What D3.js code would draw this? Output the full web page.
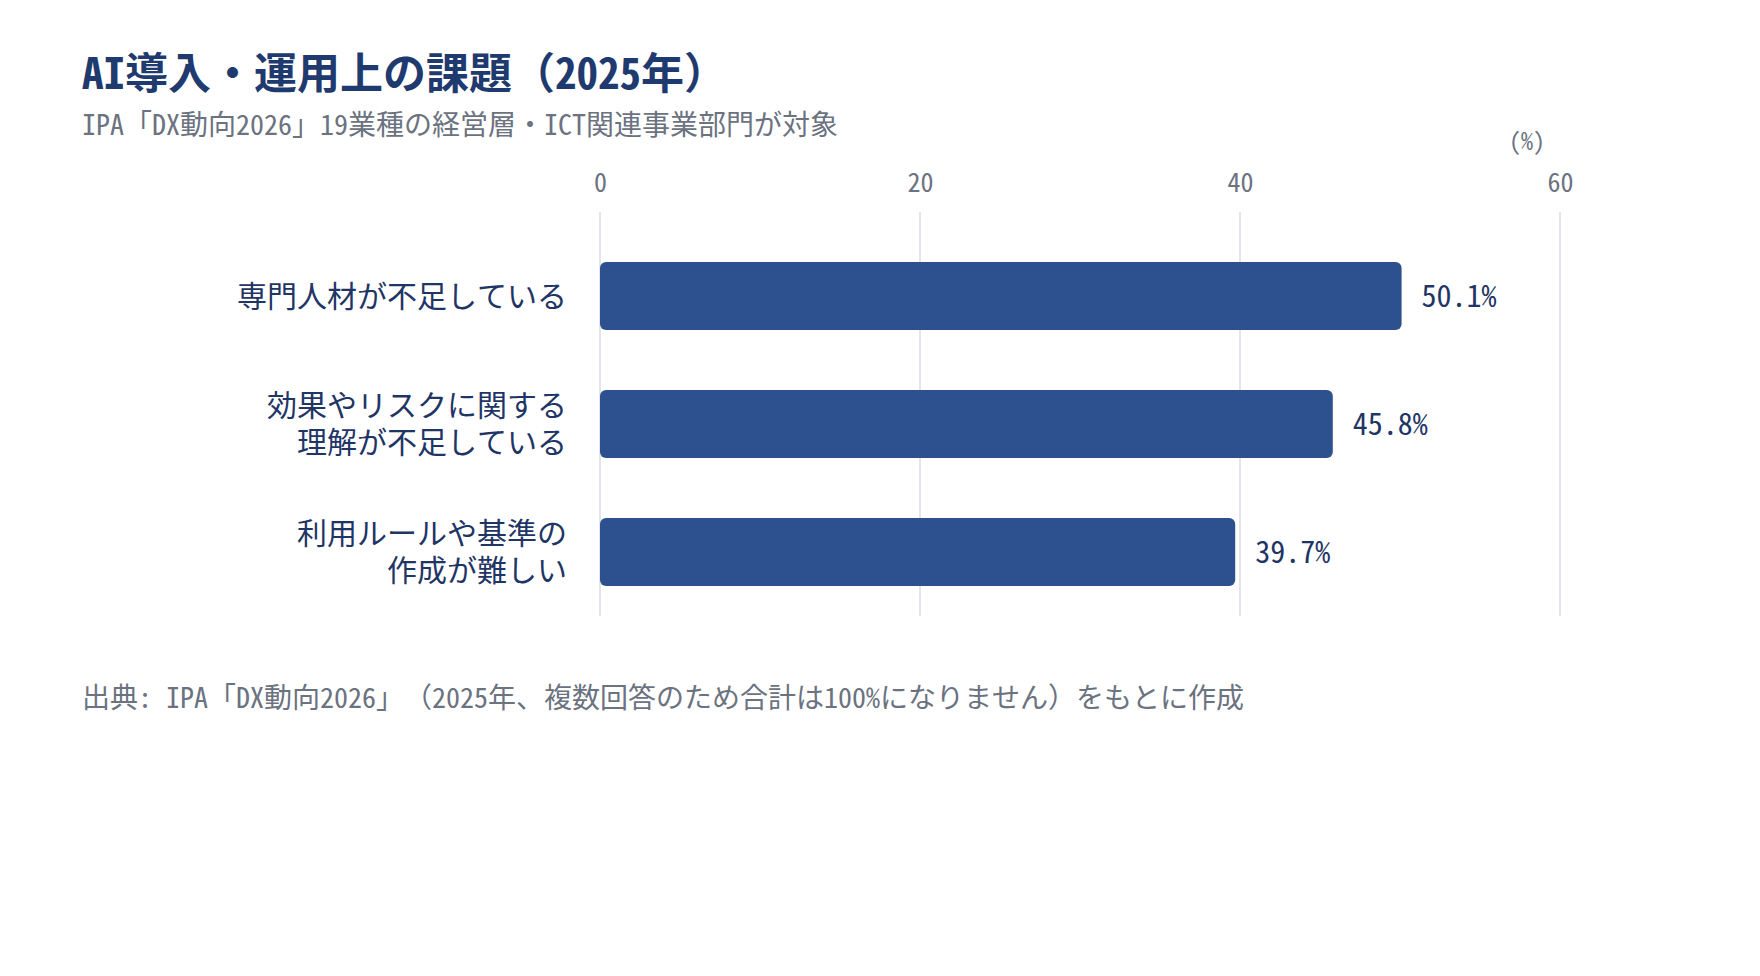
<!DOCTYPE html>
<head>
  <meta charset="utf-8">
  <script src="https://d3js.org/d3.v7.min.js"></script>
  <style>
  body{
    margin: 0;
    background: #fff;
  }
  svg text{
    font-family: "Noto Sans Mono CJK JP", monospace;
    text-spacing-trim: space-all;
  }
  .grid line{
    stroke: #e2e5ee;
    stroke-width: 2px;
  }
  .x.axis text{
    font-size: 26px;
    fill: #6b7280;
  }
  .x.axis .domain{
    display: none;
  }
  </style>
</head>

<body>
  <script>
    // data
    var categories = ["専門人材が不足している",
                      "効果やリスクに関する\n理解が不足している",
                      "利用ルールや基準の\n作成が難しい"];
    var values = [50.1, 45.8, 39.7];
    var xTicks = [0, 20, 40, 60];

    var title = "AI導入・運用上の課題（2025年）",
        subtitle = "IPA「DX動向2026」19業種の経営層・ICT関連事業部門が対象",
        source = "出典: IPA「DX動向2026」（2025年、複数回答のため合計は100%になりません）をもとに作成",
        unit = "(%)";

    var width = 1760, height = 976;

    var svg = d3.select("body")
        .append("svg")
        .attr("width", width)
        .attr("height", height);

    // scales
    var xScale = d3.scaleLinear()
        .domain([0, 60])
        .range([600, 1560]);

    var yScale = d3.scaleBand()
        .domain(categories)
        .range([232, 616])
        .paddingInner(0.47)
        .paddingOuter(0.235);

    // title block
    svg.append("text")
      .attr("x", 82).attr("y", 89)
      .attr("font-size", 43)
      .attr("font-weight", "bold")
      .attr("fill", "#1f3a6e")
      .text(title);

    svg.append("text")
      .attr("x", 82).attr("y", 135)
      .attr("font-size", 28)
      .attr("fill", "#6b7280")
      .text(subtitle);

    // vertical grid lines
    svg.append("g")
      .attr("class", "grid")
      .selectAll("line")
      .data(xTicks)
      .enter().append("line")
      .attr("x1", function(d){ return xScale(d); })
      .attr("x2", function(d){ return xScale(d); })
      .attr("y1", 212)
      .attr("y2", 616);

    // top axis
    svg.append("g")
      .attr("class", "x axis")
      .attr("transform", "translate(0,212)")
      .call(d3.axisTop(xScale).tickValues(xTicks).tickSize(0).tickPadding(20))
      .call(function(g){ g.attr("font-family", null).attr("font-size", null); });

    svg.append("text")
      .attr("x", 1545).attr("y", 150)
      .attr("text-anchor", "end")
      .attr("font-size", 24)
      .attr("fill", "#6b7280")
      .text(unit);

    // bars
    svg.append("g")
      .selectAll("rect")
      .data(values)
      .enter().append("rect")
      .attr("x", xScale(0))
      .attr("y", function(d, i){ return yScale(categories[i]); })
      .attr("width", function(d){ return xScale(d) - xScale(0); })
      .attr("height", yScale.bandwidth())
      .attr("rx", 6)
      .attr("fill", "#2d518e");

    // value labels
    svg.append("g")
      .selectAll("text")
      .data(values)
      .enter().append("text")
      .attr("x", function(d){ return xScale(d) + 20; })
      .attr("y", function(d, i){ return yScale(categories[i]) + yScale.bandwidth() / 2; })
      .attr("dy", "0.35em")
      .attr("font-size", 30)
      .attr("fill", "#1f3566")
      .text(function(d){ return d.toFixed(1) + "%"; });

    // category labels (multi-line)
    var lineH = 37;
    svg.append("g")
      .selectAll("text")
      .data(categories)
      .enter().append("text")
      .attr("text-anchor", "end")
      .attr("font-size", 30)
      .attr("fill", "#1f3566")
      .attr("y", function(d){ return yScale(d) + yScale.bandwidth() / 2; })
      .each(function(d){
        var lines = d.split("\n"),
            t = d3.select(this),
            y0 = +t.attr("y") - (lines.length - 1) * lineH / 2;
        lines.forEach(function(s, i){
          t.append("tspan")
            .attr("x", 567)
            .attr("y", y0 + i * lineH)
            .attr("dy", "0.35em")
            .text(s);
        });
      });

    // source note
    svg.append("text")
      .attr("x", 82).attr("y", 708)
      .attr("font-size", 28)
      .attr("fill", "#6b7280")
      .text(source);
  </script>
</body>
